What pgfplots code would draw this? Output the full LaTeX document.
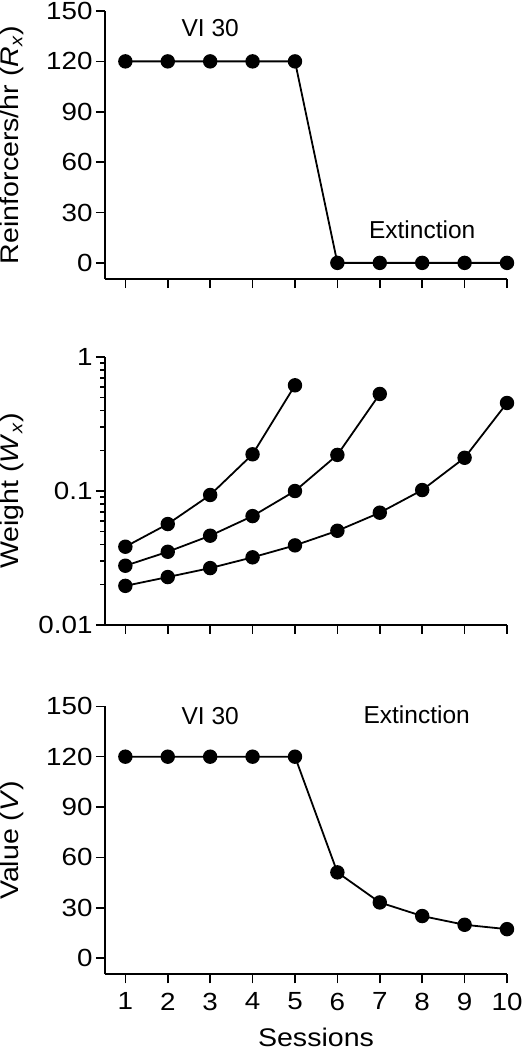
\documentclass[border=0pt]{standalone}
\usepackage{fontspec}
\setmainfont{Liberation Sans}
\newfontfamily\tickfont{Liberation Sans}[FakeStretch=1.12]
\usepackage{pgfplots}
\pgfplotsset{compat=1.18}
\pgfplotsset{
  myax/.style={
    scale only axis, width=402pt, height=268pt,
    xmin=0.52, xmax=10,
    axis lines=left,
    axis line style={line width=1.8pt, -},
    tick align=outside,
    major tick length=9pt,
    minor tick length=4.5pt,
    every tick/.style={line width=1.6pt, black},
    xtick={1,2,3,4,5,6,7,8,9,10},
    /pgf/number format/assume math mode=true,
    tick label style={font=\tickfont\fontsize{24.8}{28}\selectfont},
    xticklabel style={yshift=-6pt},
    label style={font=\tickfont\fontsize{25.5}{30}\selectfont},
    ylabel style={at={(axis description cs:-0.231,0.5)}, anchor=center},
    clip=false,
  },
  mypl/.style={black, line width=1.8pt, mark=*, mark size=6.3pt, mark options={solid, fill=black}},
}
\begin{document}
\begin{tikzpicture}
\useasboundingbox (0,0) rectangle (522pt,-1050pt);
% Top panel
\begin{axis}[myax, at={(105pt,-279pt)}, anchor=south west,
  ymin=-9.6, ymax=150, ytick={0,30,60,90,120,150},
  xticklabels={},
  ylabel={Reinforcers/hr (\textit{R}\textsubscript{\textit{x}})}]
\addplot[mypl] coordinates {(1,120) (2,120) (3,120) (4,120) (5,120) (6,0) (7,0) (8,0) (9,0) (10,0)};
\node[font=\fontsize{24.5}{28}\selectfont] at (axis cs:3,140) {VI 30};
\node[font=\fontsize{24.5}{28}\selectfont] at (axis cs:8,20) {Extinction};
\end{axis}
% Middle panel
\begin{axis}[myax, at={(105pt,-625pt)}, anchor=south west,
  ymode=log, ymin=0.01, ymax=1,
  ytick={0.01,0.1,1}, yticklabels={0.01,0.1,1},
  minor ytick={0.02,0.03,0.04,0.05,0.06,0.07,0.08,0.09,0.2,0.3,0.4,0.5,0.6,0.7,0.8,0.9},
  xticklabels={},
  ylabel={Weight (\textit{W}\textsubscript{\textit{x}})}]
\addplot[mypl] coordinates {(1,0.0384) (2,0.0567) (3,0.0934) (4,0.188) (5,0.615)};
\addplot[mypl] coordinates {(1,0.0277) (2,0.0352) (3,0.0464) (4,0.065) (5,0.100) (6,0.186) (7,0.53)};
\addplot[mypl] coordinates {(1,0.0196) (2,0.0228) (3,0.0266) (4,0.032) (5,0.0393) (6,0.0505) (7,0.0689) (8,0.1017) (9,0.177) (10,0.454)};
\end{axis}
% Bottom panel
\begin{axis}[myax, at={(105pt,-974.3pt)}, anchor=south west,
  ymin=-9.6, ymax=150, ytick={0,30,60,90,120,150},
  ylabel={Value (\textit{V})},
  xlabel={Sessions},
  xlabel style={at={(axis description cs:0.5,0)}, anchor=base, yshift=-72pt, xshift=10pt}]
\addplot[mypl] coordinates {(1,120) (2,120) (3,120) (4,120) (5,120) (6,51.1) (7,33.2) (8,25.1) (9,19.9) (10,17.3)};
\node[font=\fontsize{24.5}{28}\selectfont] at (axis cs:3,144) {VI 30};
\node[font=\fontsize{24.5}{28}\selectfont] at (axis cs:7.87,145) {Extinction};
\end{axis}
\end{tikzpicture}
\end{document}
